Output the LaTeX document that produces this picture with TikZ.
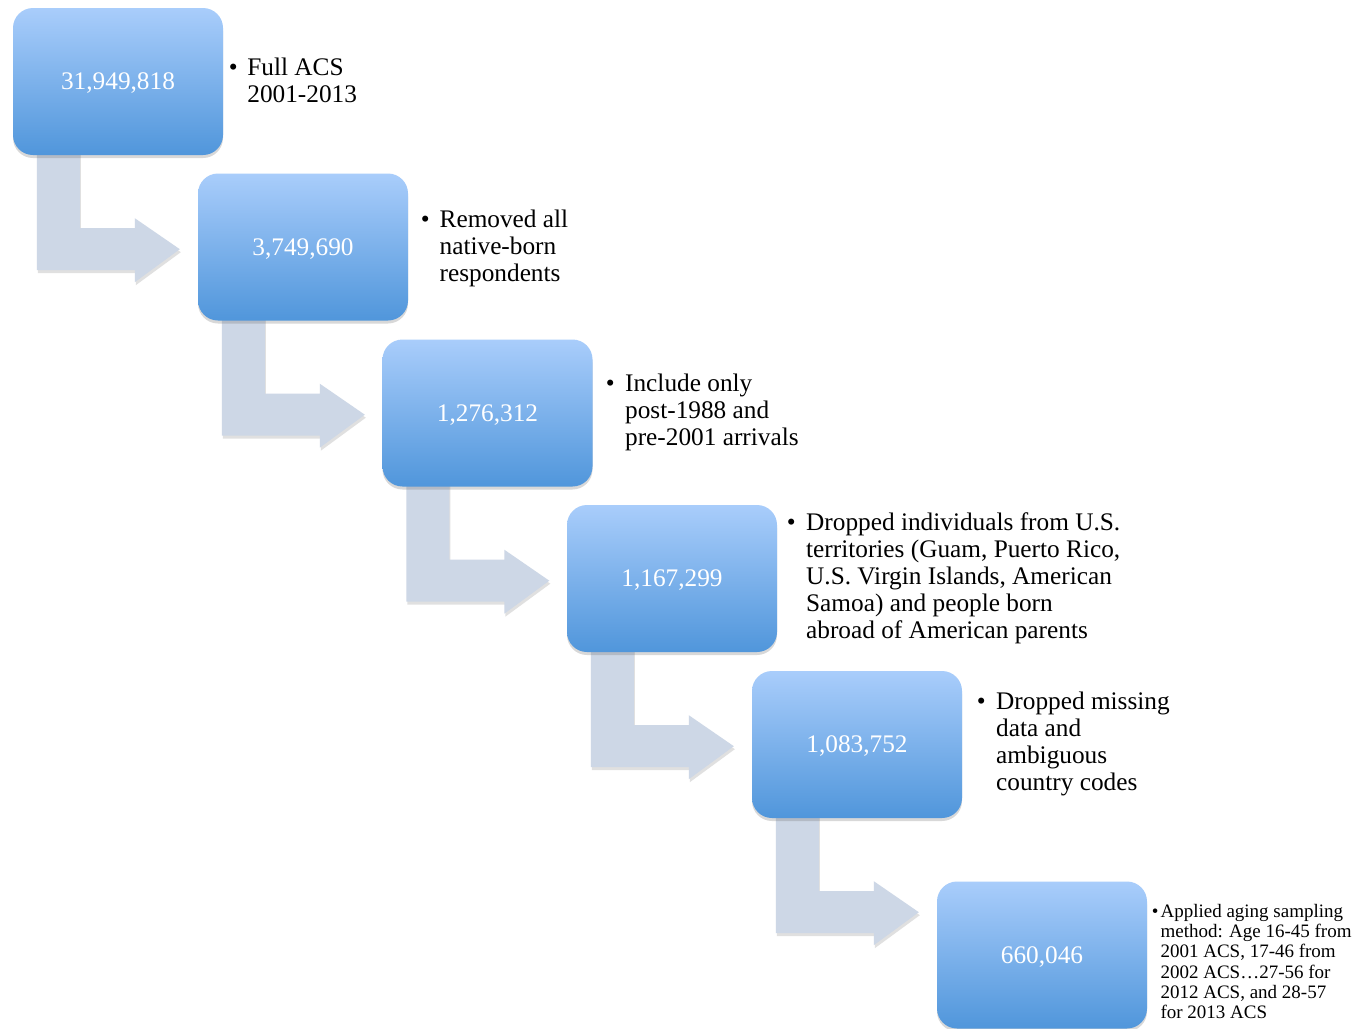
\documentclass[tikz,border=0pt]{standalone}
\usepackage{fontspec}
\setmainfont{Liberation Serif}
\usetikzlibrary{calc,shadows,backgrounds}
\definecolor{boxtop}{HTML}{A9CDFB}
\definecolor{boxbot}{HTML}{5096DB}
\definecolor{arrowfill}{HTML}{CDD7E6}
\tikzset{
  countbox/.style={rounded corners=20pt, minimum width=210pt, minimum height=147pt,
    top color=boxtop, bottom color=boxbot, text=white, inner sep=0pt, text depth=0pt,
    font=\fontsize{25.3}{27}\selectfont,
    drop shadow={shadow xshift=0pt, shadow yshift=-3pt, opacity=0.25, fill=black!60}},
  flowarrow/.style={fill=arrowfill,
    drop shadow={shadow xshift=1pt, shadow yshift=-3pt, opacity=0.2, fill=black!60}},
  stepnote/.style={anchor=west, inner sep=0pt, font=\fontsize{25.3}{27}\selectfont, text=black},
  smallnote/.style={anchor=west, inner sep=0pt, font=\fontsize{19}{20.2}\selectfont, text=black}
}
\newcommand{\bentarrow}[1]{%
  \path[flowarrow] ($(#1.south west)+(24,-10)$) -- ++(43,0) -- ++(0,83) -- ++(55,0)
    -- ++(0,-10) -- ++(45,31) -- ++(-45,33) -- ++(0,-12) -- ++(-98,0) -- cycle;}
\begin{document}
\begin{tikzpicture}[x=1pt,y=-1pt]
\useasboundingbox (0,0) rectangle (1364,1028);
\node[countbox] (b1) at (118,81.5) {31,949,818};
\node[countbox] (b2) at (303,247) {3,749,690};
\node[countbox] (b3) at (487.5,413) {1,276,312};
\node[countbox] (b4) at (672,578.5) {1,167,299};
\node[countbox] (b5) at (857,744.5) {1,083,752};
\node[countbox] (b6) at (1042,955) {660,046};
\begin{scope}[on background layer]
\fill[white] (0,0) rectangle (1364,1028);
\bentarrow{b1}
\bentarrow{b2}
\bentarrow{b3}
\bentarrow{b4}
\bentarrow{b5}
\end{scope}
\node[stepnote] (t1) at (228.6,84) {\begin{tabular}{@{}l@{\hspace{9.7pt}}l@{}}\textbullet & Full ACS\\ & 2001-2013\end{tabular}};
\node[stepnote] (t2) at (420.6,249.5) {\begin{tabular}{@{}l@{\hspace{10pt}}l@{}}\textbullet & Removed all\\ & native-born\\ & respondents\end{tabular}};
\node[stepnote] (t3) at (605.6,413) {\begin{tabular}{@{}l@{\hspace{10.5pt}}l@{}}\textbullet & Include only\\ & post-1988 and\\ & pre-2001 arrivals\end{tabular}};
\node[stepnote] (t4) at (786.6,579) {\begin{tabular}{@{}l@{\hspace{10.5pt}}l@{}}\textbullet & Dropped individuals from U.S.\\ & territories (Guam, Puerto Rico,\\ & U.S. Virgin Islands, American\\ & Samoa) and people born\\ & abroad of American parents\end{tabular}};
\node[stepnote] (t5) at (976.6,745) {\begin{tabular}{@{}l@{\hspace{10.5pt}}l@{}}\textbullet & Dropped missing\\ & data and\\ & ambiguous\\ & country codes\end{tabular}};
\node[smallnote] (t6) at (1151.7,964) {\begin{tabular}{@{}l@{\hspace{2pt}}l@{}}\textbullet & Applied aging sampling\\ & method: Age 16-45 from\\ & 2001 ACS, 17-46 from\\ & 2002 ACS…27-56 for\\ & 2012 ACS, and 28-57\\ & for 2013 ACS\end{tabular}};
\end{tikzpicture}
\end{document}
